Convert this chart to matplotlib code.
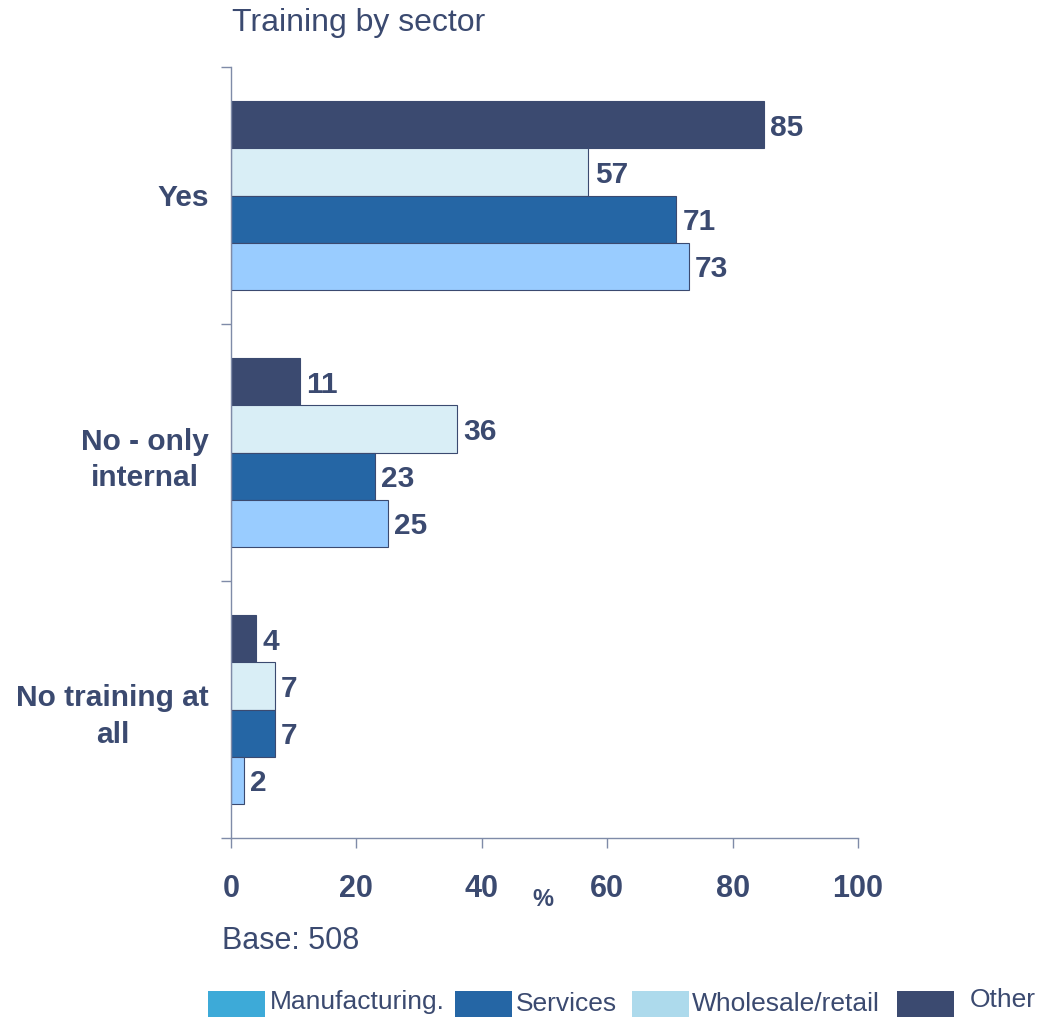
import matplotlib
matplotlib.use("Agg")
import matplotlib.pyplot as plt
from matplotlib.patches import Rectangle
import numpy as np

# Data
categories = ["Yes", "No - only\ninternal", "No training at\nall"]
series_names = ["Other", "Wholesale/retail", "Services", "Manufacturing."]
other = [85, 11, 4]
wholesale = [57, 36, 7]
services = [71, 23, 7]
manufacturing = [73, 25, 2]
x_ticks = [0, 20, 40, 60, 80, 100]

series_values = [other, wholesale, services, manufacturing]
bar_colors = ["#3B4A70", "#D9EEF6", "#2566A5", "#99CCFF"]
legend_order = ["Manufacturing.", "Services", "Wholesale/retail", "Other"]
legend_colors = ["#3DAAD8", "#2566A5", "#ADDAEC", "#3B4A70"]

TXT = "#3B4A70"
AXC = "#7F8BA8"
FONT = ["Liberation Sans", "DejaVu Sans"]

fig = plt.figure(figsize=(10.39, 10.19), dpi=100)
ax = fig.add_axes([231 / 1039, 1 - 838 / 1019, 627 / 1039, 771 / 1019])

bar_h = 0.183
n = len(series_values)
centers = np.arange(len(categories))
for i, (vals, col) in enumerate(zip(series_values, bar_colors)):
    offs = (i - (n - 1) / 2) * bar_h
    ypos = centers + offs
    ax.barh(ypos, vals, height=bar_h, color=col, edgecolor="#3B4A70",
            linewidth=0.8, zorder=2)
    for y, v in zip(ypos, vals):
        ax.text(v + 1.0, y + 0.01, f"{v}", ha="left", va="center", fontsize=21.5,
                fontweight="bold", color=TXT, family=FONT)

ax.set_xlim(0, 100)
ax.set_ylim(len(categories) - 0.5, -0.5)

ax.set_xticks(x_ticks)
ax.set_xticklabels([str(t) for t in x_ticks], fontsize=22, fontweight="bold",
                   color=TXT, family=FONT)
ax.tick_params(axis="x", direction="out", length=7, width=1, color=AXC, pad=19)

ax.set_yticks(centers)
ax.set_yticklabels(categories, fontsize=21.5, fontweight="bold", color=TXT,
                   family=FONT, multialignment="center", linespacing=1.4)
ax.set_yticks(np.arange(len(categories) + 1) - 0.5, minor=True)
ax.tick_params(axis="y", which="major", length=0, pad=16)
ax.tick_params(axis="y", which="minor", direction="out", length=7, width=1,
               color=AXC)

for s in ["top", "right"]:
    ax.spines[s].set_visible(False)
for s in ["left", "bottom"]:
    ax.spines[s].set_color(AXC)
    ax.spines[s].set_linewidth(1)

# Titles and notes
fig.text(232 / 1039, 1 - 23 / 1019, "Training by sector", fontsize=23,
         color=TXT, family=FONT, ha="left", va="center")
fig.text(543 / 1039, 1 - 899 / 1019, "%", fontsize=17, fontweight="bold",
         color=TXT, family=FONT, ha="center", va="center")
fig.text(222 / 1039, 1 - 941 / 1019, "Base: 508", fontsize=22, color=TXT,
         family=FONT, ha="left", va="center")

# Legend
patch_x = [208, 455, 632, 897]
text_x = [270, 516, 692, 970]
text_y = [1002, 1004, 1004, 1000]
for px, tx, ty, name, col in zip(patch_x, text_x, text_y, legend_order,
                                  legend_colors):
    fig.patches.append(Rectangle((px / 1039, 1 - 1017 / 1019), 57 / 1039,
                                 26 / 1019, transform=fig.transFigure,
                                 facecolor=col, edgecolor="none"))
    fig.text(tx / 1039, 1 - ty / 1019, name, fontsize=19, color=TXT,
             family=FONT, ha="left", va="center")

fig.savefig("out.png", dpi=100)
